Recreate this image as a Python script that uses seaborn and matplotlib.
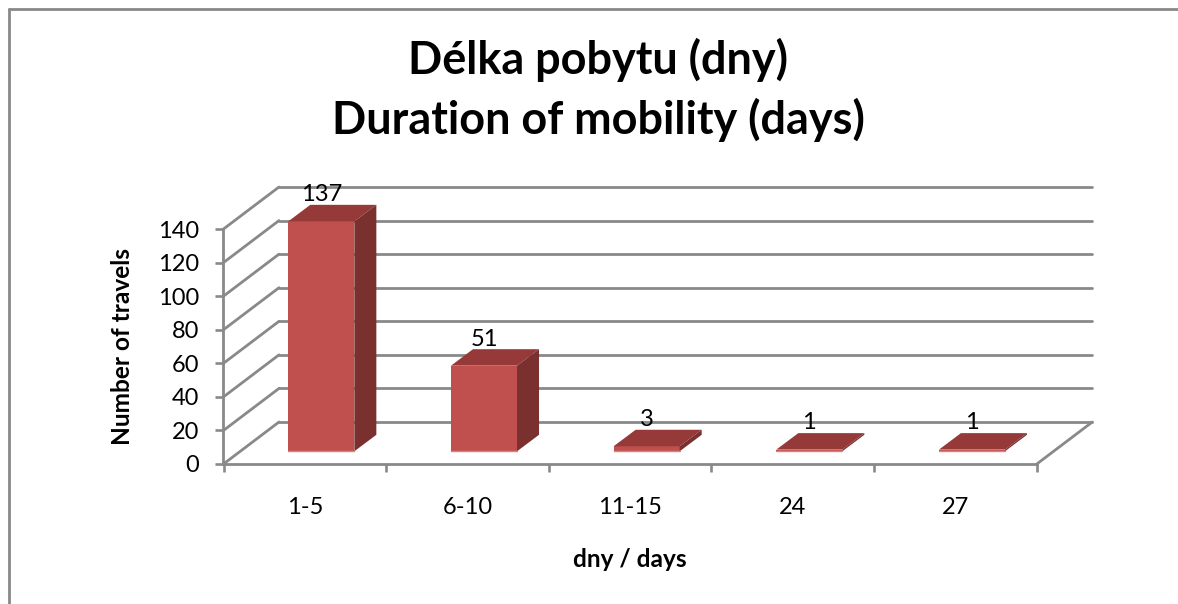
import matplotlib
matplotlib.use("Agg")
import matplotlib.pyplot as plt
from matplotlib.lines import Line2D
from matplotlib.patches import Polygon
import pandas as pd
import seaborn as sns

#Data
categories = ['1-5', '6-10', '11-15', '24', '27']
travels = [137, 51, 3, 1, 1]
y_ticks = [0, 20, 40, 60, 80, 100, 120, 140]
title_text = 'Délka pobytu (dny)\nDuration of mobility (days)'

W, H = 1178, 604
GREY = '#898989'
FRONT = '#c0504d'
TOP = '#953a38'
SIDE = '#7a302e'
EDGE = '#e07f7b'

sns.set_style('white')
plt.rcParams['font.family'] = ['Lato', 'DejaVu Sans']
plt.rcParams['text.color'] = 'black'
plt.rcParams['axes.labelcolor'] = 'black'
plt.rcParams['xtick.labelcolor'] = 'black'
plt.rcParams['ytick.labelcolor'] = 'black'

df = pd.DataFrame({'days': categories, 'travels': travels})

fig = plt.figure(figsize=(W / 100, H / 100), dpi=100)


def rect(left, bottom, width, height):
    return [left / W, 1 - bottom / H, width / W, height / H]


#Figure frame, only top and left are visible
fig.add_artist(Line2D([9 / W, 9 / W], [0, 1 - 9 / H], color=GREY, lw=2.0))
fig.add_artist(Line2D([9 / W, 1], [1 - 9 / H, 1 - 9 / H], color=GREY, lw=2.0))

#Front plane of the box, carries the axes
ax = fig.add_axes(rect(223.5, 464, 813.3, 235))
ax.set_xlim(-0.5, 4.5)
ax.set_ylim(0, 140)
sns.despine(ax=ax)
for s in ['left', 'bottom']:
    ax.spines[s].set_color(GREY)
    ax.spines[s].set_linewidth(2.0)

ax.set_yticks(y_ticks)
ax.set_xticks(range(len(categories)), categories)
ax.set_xticks([i - 0.5 for i in range(len(categories) + 1)], minor=True)
ax.tick_params(axis='y', length=6, width=1.9, color=GREY, pad=11.5, labelsize=17, left=True)
ax.tick_params(axis='x', which='major', length=0, pad=24, labelsize=17)
ax.tick_params(axis='x', which='minor', length=6, width=1.9, color=GREY, bottom=True)
ax.set_ylabel('Number of travels', fontsize=17.6, fontweight='bold', labelpad=17)
ax.set_xlabel('dny / days', fontsize=17.6, fontweight='bold', labelpad=21.5)

#Walls: diagonal lines on the left, horizontal ones at the back
wall_dx = 55.5 / (813.3 / 5)
wall_dy = 42 / (235 / 140)
for t in y_ticks:
    ax.plot([-0.5, -0.5 + wall_dx], [t, t + wall_dy], color=GREY, lw=2.0, clip_on=False)
    ax.plot([-0.5 + wall_dx, 4.5 + wall_dx], [t + wall_dy, t + wall_dy], color=GREY, lw=2.0, clip_on=False)
ax.plot([4.5, 4.5 + wall_dx], [0, wall_dy], color=GREY, lw=2.0, clip_on=False)

#Bars sit in the middle of the depth
ax_bar = fig.add_axes(rect(240, 451.3, 813.3, 235))
bar_w = 0.406
sns.barplot(data=df, x='days', y='travels', order=categories, color=FRONT, saturation=1,
            width=bar_w, ax=ax_bar, clip_on=False, linewidth=0)
ax_bar.set_xlim(-0.5, 4.5)
ax_bar.set_ylim(0, 140)
ax_bar.axis('off')

bar_dx = 22 / (813.3 / 5)
bar_dy = 16.5 / (235 / 140)
for i, v in enumerate(travels):
    l, r = i - bar_w / 2, i + bar_w / 2
    ax_bar.add_patch(Polygon([(l, v), (r, v), (r + bar_dx, v + bar_dy), (l + bar_dx, v + bar_dy)],
                             color=TOP, lw=0, clip_on=False, zorder=5))
    ax_bar.add_patch(Polygon([(r, 0), (r + bar_dx, bar_dy), (r + bar_dx, v + bar_dy), (r, v)],
                             color=SIDE, lw=0, clip_on=False, zorder=5))
    ax_bar.plot([l, r], [0, 0], color=EDGE, lw=1.0, clip_on=False, zorder=6)
    ax_bar.annotate(str(v), (i, v), xytext=(0, 19.2), textcoords='offset points', ha='center', va='center',
                    fontsize=17, color='black', annotation_clip=False, zorder=7)

fig.text(598 / W, 1 - 90 / H, title_text, ha='center', va='center', fontsize=32.4, fontweight='bold',
         linespacing=1.45)

plt.savefig('out.png', dpi=100)
